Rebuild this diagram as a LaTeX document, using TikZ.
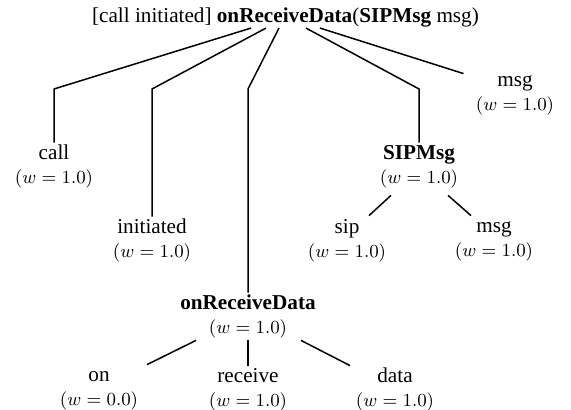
\RequirePackage{fix-cm}
\documentclass[tikz,border=0pt]{standalone}
\usepackage[no-math]{fontspec}
\setmainfont{Liberation Serif}
\usetikzlibrary{calc}
\tikzset{
  lbl/.style={align=center, inner sep=0pt, font=\fontsize{10.6}{12}\selectfont},
  edge/.style={line width=0.75pt},
}
\newcommand\wt[1]{{\fontsize{9.2}{12}\selectfont\strut$(w = #1)$}}
\newcommand\lab[2]{\strut #1\\\wt{#2}}
\begin{document}
\begin{tikzpicture}[x=0.5pt,y=-0.5pt]
\useasboundingbox (0,0) rectangle (571,410);
\node[lbl, anchor=base] (root) at (285.5,23) {[call initiated] \textbf{onReceiveData}(\textbf{SIPMsg} msg)};
\node[lbl] (call) at (54,167) {\lab{call}{1.0}};
\node[lbl] (init) at (152,241) {\lab{initiated}{1.0}};
\node[lbl] (ord) at (248,317) {\lab{\textbf{onReceiveData}}{1.0}};
\node[lbl] (sipmsg) at (419,167) {\lab{\textbf{SIPMsg}}{1.0}};
\node[lbl] (msgA) at (515,94) {\lab{msg}{1.0}};
\node[lbl] (sip) at (347,241) {\lab{sip}{1.0}};
\node[lbl] (msgB) at (494,240) {\lab{msg}{1.0}};
\node[lbl] (on) at (99,389) {\lab{on}{0.0}};
\node[lbl] (rec) at (248,390) {\lab{receive}{1.0}};
\node[lbl] (data) at (395,390) {\lab{data}{1.0}};
\coordinate (b1) at (call.north |- 0,89);
\coordinate (b2) at (init.north |- 0,89);
\coordinate (b3) at (ord.north |- 0,89);
\coordinate (b4) at (sipmsg.north |- 0,89);
\draw[edge] ($(root.south)+(-34.5,0)$) -- (b1) -- (call.north);
\draw[edge] ($(root.south)+(-19.5,0)$) -- (b2) -- (init.north);
\draw[edge] ($(root.south)+(-6.5,0)$) -- (b3) -- (ord.north);
\draw[edge] ($(root.south)+(20.5,0)$) -- (b4) -- (sipmsg.north);
\draw[edge] ($(root.south)+(34.5,0)$) -- ($(msgA.north west)+(-12,4)$);
\draw[edge] ($(sipmsg.south)+(-28,4)$) -- ($(sip.north)+(22,-1)$);
\draw[edge] ($(sipmsg.south)+(29,4)$) -- ($(msgB.north)+(-23,0)$);
\draw[edge] ($(ord.south)+(-52,-1)$) -- ($(on.north)+(48,0)$);
\draw[edge] ($(ord.south)+(0,-1)$) -- (rec.north);
\draw[edge] ($(ord.south)+(53,-1)$) -- ($(data.north)+(-45,0)$);
\end{tikzpicture}
\end{document}
